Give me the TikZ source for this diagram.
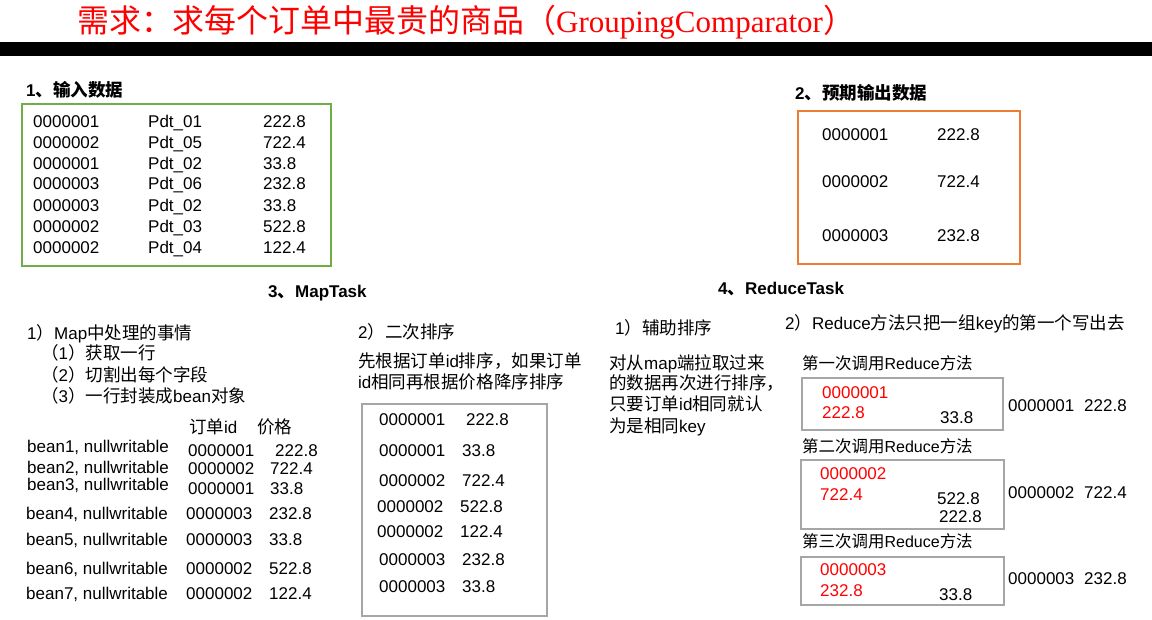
\documentclass[tikz,border=0pt]{standalone}
\usepackage{fontspec}
\setmainfont{Liberation Sans}
\newfontfamily\cjk{Noto Sans CJK SC}[Scale=1.03]
\newfontfamily\titleserif{Liberation Serif}

\definecolor{inputgreen}{RGB}{112,173,71}
\definecolor{outputorange}{RGB}{237,125,49}
\definecolor{framegray}{RGB}{166,166,166}
\definecolor{titlered}{RGB}{255,0,0}

\tikzset{
  txt/.style={anchor=west, inner sep=0pt, text height=12.2pt, text depth=0pt,
              font=\fontsize{17}{20}\selectfont},
  small/.style={txt, font=\fontsize{16}{19}\selectfont, text height=11.5pt},
  head/.style={txt, font=\fontsize{17}{20}\selectfont\bfseries},
  hl/.style={txt, text=titlered},
  titletext/.style={anchor=west, inner sep=0pt, text height=23pt, text depth=0pt,
                    text=titlered, font=\fontsize{31}{36}\selectfont},
  frame/.style={draw=framegray, line width=1.6pt, anchor=north west, inner sep=0pt},
}

\begin{document}
\begin{tikzpicture}[x=1pt, y=-1pt]
\useasboundingbox (0,0) rectangle (1152,620);
\fill[white] (0,0) rectangle (1152,620);

% title and rule
\node[titletext] (title) at (77,21)
  {{\cjk 需求：求每个订单中最贵的商品（}{\titleserif GroupingComparator}{\cjk ）}};
\node[fill=black, anchor=north west, inner sep=0pt, minimum width=1152pt,
      minimum height=14pt] (rule) at (0,42) {};

% 1. input data
\node[head] (h1) at (26,90) {1{\cjk 、输入数据}};
\node[draw=inputgreen, line width=2pt, anchor=north west, inner sep=0pt,
      minimum width=309pt, minimum height=162pt] (inbox) at (21,103) {};
\foreach \yy/\a/\b/\c [count=\i] in {
    121/0000001/Pdt\_01/222.8, 142/0000002/Pdt\_05/722.4,
    163/0000001/Pdt\_02/33.8,  183/0000003/Pdt\_06/232.8,
    205/0000003/Pdt\_02/33.8,  226/0000002/Pdt\_03/522.8,
    247/0000002/Pdt\_04/122.4} {
  \node[txt] (in-id-\i)  at (33,\yy)  {\a};
  \node[txt] (in-pdt-\i) at (148,\yy) {\b};
  \node[txt] (in-val-\i) at (263,\yy) {\c};
}

% 2. expected output
\node[head] (h2) at (795,93) {2{\cjk 、预期输出数据}};
\node[draw=outputorange, line width=2pt, anchor=north west, inner sep=0pt,
      minimum width=222pt, minimum height=153pt] (outbox) at (797,110) {};
\foreach \yy/\a/\c [count=\i] in {134/0000001/222.8, 181/0000002/722.4, 235/0000003/232.8} {
  \node[txt] (out-id-\i)  at (822,\yy) {\a};
  \node[txt] (out-val-\i) at (937,\yy) {\c};
}

% 3. MapTask
\node[head] (h3) at (268,291) {3{\cjk 、}MapTask};
\node[txt] (map1)  at (27,333) {1{\cjk ）}Map{\cjk 中处理的事情}};
\node[txt] (map1a) at (41,353) {{\cjk （}1{\cjk ）获取一行}};
\node[txt] (map1b) at (41,375) {{\cjk （}2{\cjk ）切割出每个字段}};
\node[txt] (map1c) at (41,396) {{\cjk （}3{\cjk ）一行封装成}bean{\cjk 对象}};
\node[txt] (colid)  at (189,427) {{\cjk 订单}id};
\node[txt] (colval) at (257,427) {{\cjk 价格}};
\foreach \by/\bx/\iy/\ix/\vx/\a/\c [count=\i] in {
    446/27/450/188/275/0000001/222.8,
    467/27/468/188/270/0000002/722.4,
    484/27/488/188/270/0000001/33.8,
    513/26/513/186/269/0000003/232.8,
    539/26/539/186/269/0000003/33.8,
    568/26/568/186/269/0000002/522.8,
    593/26/593/186/269/0000002/122.4} {
  \node[txt] (bean-\i)     at (\bx,\by) {bean\i, nullwritable};
  \node[txt] (bean-id-\i)  at (\ix,\iy) {\a};
  \node[txt] (bean-val-\i) at (\vx,\iy) {\c};
}

% secondary sort
\node[txt] (map2)  at (358,332) {2{\cjk ）二次排序}};
\node[txt] (map2a) at (358,361) {{\cjk 先根据订单}id{\cjk 排序，如果订单}};
\node[txt] (map2b) at (358,382) {id{\cjk 相同再根据价格降序排序}};
\node[frame, minimum width=185pt, minimum height=212pt] (sortbox) at (361,403) {};
\foreach \yy/\ix/\vx/\a/\c [count=\i] in {
    419/379/466/0000001/222.8, 450/379/462/0000001/33.8,
    480/379/462/0000002/722.4, 506/377/460/0000002/522.8,
    531/377/460/0000002/122.4, 559/379/462/0000003/232.8,
    586/379/462/0000003/33.8} {
  \node[txt] (sort-id-\i)  at (\ix,\yy) {\a};
  \node[txt] (sort-val-\i) at (\vx,\yy) {\c};
}

% 4. ReduceTask
\node[head] (h4) at (718,288) {4{\cjk 、}ReduceTask};
\node[txt] (red1)  at (615,328) {1{\cjk ）辅助排序}};
\node[txt] (red1a) at (609,363) {{\cjk 对从}map{\cjk 端拉取过来}};
\node[txt] (red1b) at (609,383) {{\cjk 的数据再次进行排序，}};
\node[txt] (red1c) at (609,404) {{\cjk 只要订单}id{\cjk 相同就认}};
\node[txt] (red1d) at (609,426) {{\cjk 为是相同}key};
\node[txt] (red2)  at (785,323) {2{\cjk ）}Reduce{\cjk 方法只把一组}key{\cjk 的第一个写出去}};

% first call
\node[small] (call1) at (802,364) {{\cjk 第一次调用}Reduce{\cjk 方法}};
\node[frame, minimum width=201pt, minimum height=52pt] (grp1) at (801,377) {};
\node[hl]  (grp1-id)  at (822,392) {0000001};
\node[hl]  (grp1-v1)  at (822,412) {222.8};
\node[txt] (grp1-v2)  at (940,417) {33.8};
\node[txt] (res1-id)  at (1008,405) {0000001};
\node[txt] (res1-val) at (1084,405) {222.8};

% second call
\node[small] (call2) at (802,447) {{\cjk 第二次调用}Reduce{\cjk 方法}};
\node[frame, minimum width=203pt, minimum height=69pt] (grp2) at (800,459) {};
\node[hl]  (grp2-id)  at (820,473) {0000002};
\node[hl]  (grp2-v1)  at (820,494) {722.4};
\node[txt] (grp2-v2)  at (937,498) {522.8};
\node[txt] (grp2-v3)  at (939,516) {222.8};
\node[txt] (res2-id)  at (1008,492) {0000002};
\node[txt] (res2-val) at (1084,492) {722.4};

% third call
\node[small] (call3) at (802,542) {{\cjk 第三次调用}Reduce{\cjk 方法}};
\node[frame, minimum width=203pt, minimum height=48pt] (grp3) at (800,556) {};
\node[hl]  (grp3-id)  at (820,569) {0000003};
\node[hl]  (grp3-v1)  at (820,590) {232.8};
\node[txt] (grp3-v2)  at (939,594) {33.8};
\node[txt] (res3-id)  at (1008,578) {0000003};
\node[txt] (res3-val) at (1084,578) {232.8};
\end{tikzpicture}
\end{document}
